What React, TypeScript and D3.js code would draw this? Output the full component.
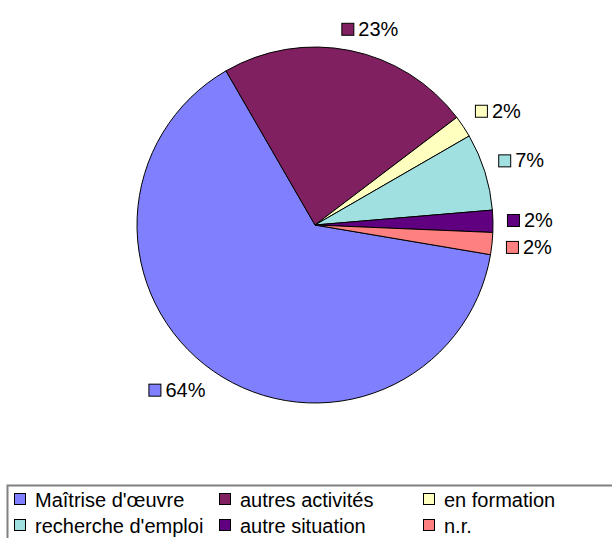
import * as d3 from 'd3';

const WIDTH = 612;
const HEIGHT = 538;

const categories = [
  "Maîtrise d'œuvre",
  'autres activités',
  'en formation',
  "recherche d'emploi",
  'autre situation',
  'n.r.',
];
const values = [64, 23, 2, 7, 2, 2];
const colors = ['#8080FF', '#802060', '#FFFFC0', '#A0E0E0', '#600080', '#FF8080'];

const CX = 315;
const CY = 225;
const RADIUS = 178;
const START_DEG = 99.6;
const LABEL_FONT = 20;
const LEGEND_FONT = 20;

type Row = { name: string; value: number; color: string };

const rows: Row[] = categories.map((name, i) => ({ name, value: values[i], color: colors[i] }));

// rough Arial widths for the percentage labels
const labelWidth = (s: string) =>
  s.split('').reduce((acc, ch) => acc + (ch === '%' ? 0.889 : 0.556), 0) * LABEL_FONT;

const clamp = (v: number) => Math.max(-1, Math.min(1, v));

const App = () => {
  const start = (START_DEG * Math.PI) / 180;
  const pie = d3
    .pie<Row>()
    .sort(null)
    .value((d) => d.value)
    .startAngle(start)
    .endAngle(start + 2 * Math.PI);
  const arcs = pie(rows);

  const arcBuilder = d3.arc<d3.PieArcDatum<Row>>().innerRadius(0).outerRadius(RADIUS);
  const total = d3.sum(values);

  const labels = arcs.map((a, i) => {
    const mid = (a.startAngle + a.endAngle) / 2;
    const s = Math.sin(mid);
    const c = Math.cos(mid);
    const text = `${Math.round((a.data.value / total) * 100)}%`;
    const w = 17 + labelWidth(text);
    const h = 15;
    const ax = CX + (RADIUS + 14) * s;
    const ay = CY - (RADIUS + 14) * c;
    const centerX = ax + (w / 2) * clamp(s * 3);
    const centerY = ay - (h / 2) * clamp(c * 3);
    const left = centerX - w / 2;
    const top = centerY - h / 2;
    return (
      <g key={i} transform={`translate(${left},${top})`}>
        <rect x={0.5} y={1.5} width={12} height={12} fill={a.data.color} stroke="#000" strokeWidth={1} />
        <text x={17} y={14} fontSize={LABEL_FONT} fill="#000">
          {text}
        </text>
      </g>
    );
  });

  // legend grid
  const colX = [14, 219, 423];
  const rowY = [493, 519];

  return (
    <svg
      width={WIDTH}
      height={HEIGHT}
      style={{ position: 'absolute', left: 0, top: 0, background: '#fff' }}
      fontFamily="'Liberation Sans', Arial, sans-serif"
    >
      <g>
        {arcs.map((a, i) => (
          <path key={i} d={arcBuilder(a) || ''} transform={`translate(${CX},${CY})`} fill={a.data.color} stroke="#000" strokeWidth={1} />
        ))}
      </g>
      {labels}
      <rect x={7.5} y={485.5} width={620} height={80} fill="#fff" stroke="#808080" strokeWidth={2} />
      {rows.map((d, i) => {
        const x = colX[i % 3];
        const y = rowY[Math.floor(i / 3)];
        return (
          <g key={d.name} transform={`translate(${x},${y})`}>
            <rect x={0.5} y={0.5} width={11} height={11} fill={d.color} stroke="#000" strokeWidth={1} />
            <text x={21} y={14} fontSize={LEGEND_FONT} fill="#000">
              {d.name}
            </text>
          </g>
        );
      })}
    </svg>
  );
};

export default App;
